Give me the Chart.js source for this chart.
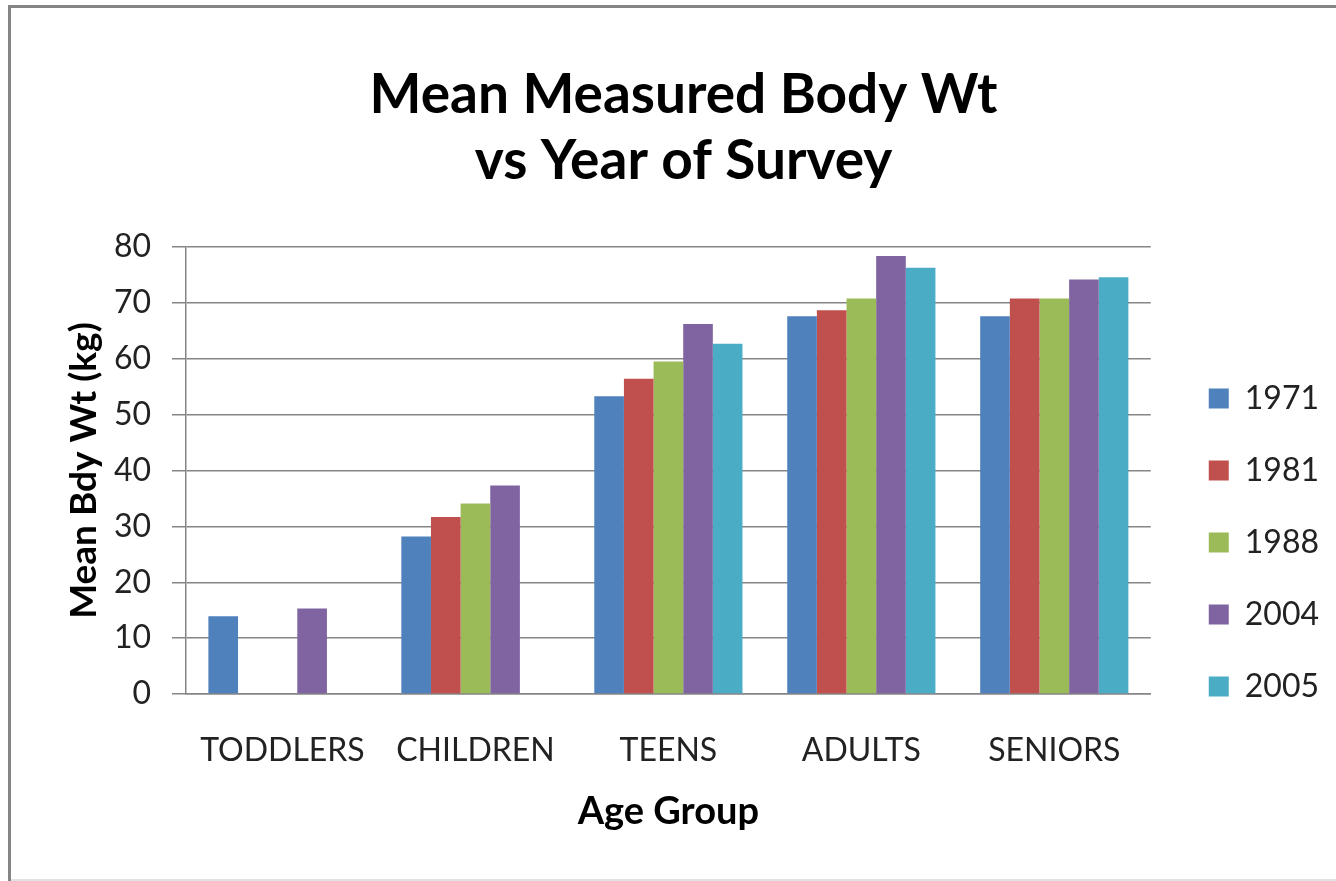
<!DOCTYPE html>
<html>
<head>
<meta charset="utf-8">
<script src="https://cdn.jsdelivr.net/npm/chart.js@4.4.1/dist/chart.umd.min.js"></script>
<style>
  html, body { margin: 0; padding: 0; background: #ffffff; width: 1336px; height: 881px; overflow: hidden; }
  #frame { position: absolute; left: 8px; top: 5px; width: 1340px; height: 900px; border-top: 3px solid #858585; border-left: 3px solid #858585; box-sizing: border-box; }
  #bottomline { position: absolute; left: 11px; top: 879px; width: 1325px; height: 2px; background: #e2e2e2; }
  #wrap { position: absolute; left: 0; top: 0; width: 1336px; height: 881px; }
</style>
</head>
<body>
<div id="frame"></div>
<div id="bottomline"></div>
<div id="wrap"><canvas id="c" width="1336" height="881"></canvas></div>
<script>
const categories = ['TODDLERS', 'CHILDREN', 'TEENS', 'ADULTS', 'SENIORS'];
const years = ['1971', '1981', '1988', '2004', '2005'];
const wt1971 = [13.9, 28.2, 53.3, 67.6, 67.6];
const wt1981 = [null, 31.7, 56.4, 68.7, 70.8];
const wt1988 = [null, 34.1, 59.5, 70.8, 70.8];
const wt2004 = [15.3, 37.3, 66.2, 78.4, 74.2];
const wt2005 = [null, null, 62.7, 76.3, 74.6];
const colors = ['#4F81BD', '#C0504D', '#9BBB59', '#8064A2', '#4BACC6'];
const yTicks = [0, 10, 20, 30, 40, 50, 60, 70, 80];

const series = [wt1971, wt1981, wt1988, wt2004, wt2005];
const FONT = 'Lato, "Open Sans", "DejaVu Sans", sans-serif';

const datasets = series.map((vals, i) => ({
  label: years[i],
  data: vals,
  backgroundColor: colors[i],
  borderWidth: 0,
  categoryPercentage: 0.768,
  barPercentage: 1.0
}));

const LAYOUT = { left: 38, right: 7, top: 0, bottom: 30 };
const PLOT_LEFT = 186;
const PLOT_BOTTOM = 694;

new Chart(document.getElementById('c'), {
  type: 'bar',
  data: { labels: categories, datasets: datasets },
  options: {
    responsive: false,
    animation: false,
    devicePixelRatio: 1,
    layout: { padding: LAYOUT },
    plugins: {
      tooltip: { enabled: false },
      title: {
        display: true,
        text: ['Mean Measured Body Wt', 'vs Year of Survey'],
        color: '#000000',
        font: { family: FONT, size: 55, weight: 'bold', lineHeight: 1.2 },
        padding: { top: 62, bottom: 53 }
      },
      legend: {
        display: true,
        position: 'right',
        align: 'start',
        title: {
          display: true,
          text: ' ',
          font: { family: FONT, size: 32 },
          padding: { top: 304, bottom: 0 }
        },
        labels: {
          boxWidth: 20,
          boxHeight: 20,
          padding: 40,
          color: '#222222',
          font: { family: FONT, size: 32 }
        }
      }
    },
    scales: {
      x: {
        grid: { display: false, drawTicks: false },
        border: { display: true, color: '#868686', width: 1.5 },
        ticks: { color: '#222222', padding: 37, font: { family: FONT, size: 32 }, maxRotation: 0, autoSkip: false },
        title: {
          display: true,
          text: 'Age Group',
          color: '#000000',
          font: { family: FONT, size: 38, weight: 'bold', lineHeight: 1.2 },
          padding: { top: 0, bottom: 16 }
        },
        afterFit: function (scale) { scale.height = 881 - LAYOUT.bottom - PLOT_BOTTOM; }
      },
      y: {
        min: 0,
        max: 80,
        afterBuildTicks: function (scale) { scale.ticks = yTicks.map(v => ({ value: v })); },
        grid: { color: '#868686', lineWidth: 1.5, drawTicks: true, tickLength: 14, tickColor: '#868686' },
        border: { display: true, color: '#868686', width: 1.5 },
        ticks: { color: '#222222', padding: 21, font: { family: FONT, size: 32 } },
        title: {
          display: true,
          text: 'Mean Bdy Wt (kg)',
          color: '#000000',
          font: { family: FONT, size: 37, weight: 'bold', lineHeight: 1.2 },
          padding: { top: 24, bottom: 0 }
        },
        afterFit: function (scale) { scale.width = PLOT_LEFT - LAYOUT.left; }
      },
      gap: {
        type: 'linear',
        position: 'right',
        display: true,
        grid: { display: false, drawTicks: false },
        border: { display: false },
        ticks: { display: false },
        afterFit: function (scale) { scale.width = 18; }
      }
    }
  }
});
</script>
</body>
</html>
